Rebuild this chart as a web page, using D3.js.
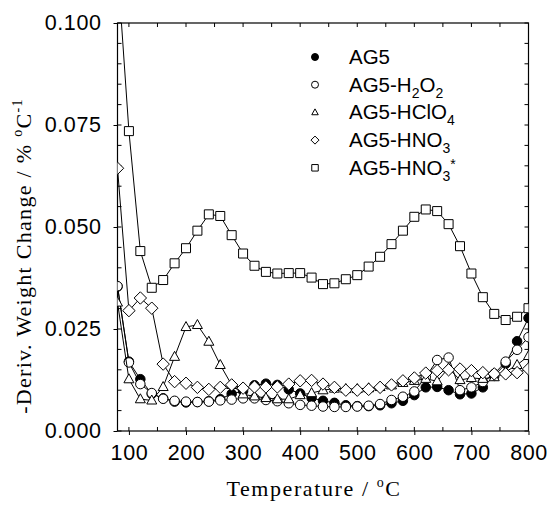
<!DOCTYPE html>
<html><head><meta charset="utf-8">
<script src="https://cdn.jsdelivr.net/npm/d3@7"></script>
<style>
body{margin:0;background:#fff;}
svg{display:block;}
.tick text{font-family:"Liberation Sans",Arial,sans-serif;}
</style></head>
<body><svg id="c" width="548" height="508"></svg>
<script>
const temps = [80,100,120,140,160,180,200,220,240,260,280,300,320,340,360,380,400,420,440,460,480,500,520,540,560,580,600,620,640,660,680,700,720,740,760,780,800];
const ag5 = [0.0354,0.0170,0.0127,0.0091,0.0080,0.0072,0.0070,0.0071,0.0073,0.0078,
 0.0091,0.0098,0.0112,0.0116,0.0113,0.0102,0.0092,0.0081,0.0074,0.0069,
 0.0063,0.0061,0.0061,0.0063,0.0068,0.0074,0.0088,0.0107,0.0108,0.0100,
 0.0090,0.0092,0.0107,0.0135,0.0165,0.0220,0.0277];
const ag5H2O2 = [0.0355,0.0168,0.0115,0.0093,0.0079,0.0074,0.0072,0.0071,0.0072,0.0075,
 0.0077,0.0080,0.0080,0.0076,0.0073,0.0068,0.0064,0.0062,0.0060,0.0059,
 0.0059,0.0060,0.0062,0.0066,0.0076,0.0084,0.0097,0.0132,0.0174,0.0180,
 0.0100,0.0107,0.0120,0.0140,0.0170,0.0199,0.0230];
const ag5HClO4 = [0.0315,0.0127,0.0078,0.0075,0.0108,0.0182,0.0255,0.0260,0.0219,0.0162,
 0.0113,0.0090,0.0085,0.0081,0.0078,0.0078,0.0088,0.0093,0.0100,0.0104,
 0.0103,0.0103,0.0105,0.0108,0.0112,0.0118,0.0123,0.0128,0.0122,0.0154,
 0.0125,0.0130,0.0128,0.0132,0.0145,0.0162,0.0184];
const ag5HNO3 = [0.0644,0.0295,0.0326,0.0301,0.0164,0.0121,0.0117,0.0107,0.0102,0.0107,
 0.0113,0.0105,0.0108,0.0108,0.0108,0.0115,0.0123,0.0124,0.0115,0.0107,
 0.0100,0.0100,0.0102,0.0107,0.0113,0.0123,0.0130,0.0142,0.0148,0.0150,
 0.0152,0.0148,0.0143,0.0140,0.0140,0.0143,0.0152];
const ag5HNO3s = [0.1140,0.0735,0.0441,0.0351,0.0370,0.0411,0.0448,0.0491,0.0531,0.0527,
 0.0480,0.0435,0.0405,0.0390,0.0386,0.0387,0.0387,0.0376,0.0360,0.0362,
 0.0372,0.0382,0.0403,0.0427,0.0458,0.0491,0.0525,0.0543,0.0539,0.0507,
 0.0453,0.0386,0.0328,0.0287,0.0272,0.0280,0.0301];
const xTicks = [100,200,300,400,500,600,700,800];
const yTicks = [0,0.025,0.05,0.075,0.1];

const series = [
  {name:"AG5", vals:ag5, sym:"circle", fill:"#000", parts:[["AG5"]]},
  {name:"AG5-H2O2", vals:ag5H2O2, sym:"circle", fill:"#fff", parts:[["AG5-H"],["2","sub"],["O"],["2","sub"]]},
  {name:"AG5-HClO4", vals:ag5HClO4, sym:"triangle", fill:"#fff", parts:[["AG5-HClO"],["4","sub"]]},
  {name:"AG5-HNO3", vals:ag5HNO3, sym:"diamond", fill:"#fff", parts:[["AG5-HNO"],["3","sub"]]},
  {name:"AG5-HNO3*", vals:ag5HNO3s, sym:"square", fill:"#fff", parts:[["AG5-HNO"],["3","sub"],["*","sup"]]}
];

const svg = d3.select("#c");
const L=117.5, R=528.5, T=23, B=431;
const x = d3.scaleLinear().domain([80,800]).range([L,R]);
const y = d3.scaleLinear().domain([0,0.1]).range([B,T]);

svg.append("defs").append("clipPath").attr("id","clip")
  .append("rect").attr("x",L).attr("y",T).attr("width",R-L).attr("height",B-T);

function symPath(sym, s){
  if(sym==="circle") return d3.symbol(d3.symbolCircle, s*s*Math.PI/4)();
  if(sym==="square") return `M${-s/2},${-s/2}h${s}v${s}h${-s}Z`;
  if(sym==="triangle"){const h=s*0.9;return `M0,${-h*0.6}L${s/2},${h*0.4}L${-s/2},${h*0.4}Z`;}
  if(sym==="diamond"){const r=s*0.62;return `M0,${-r}L${r},0L0,${r}L${-r},0Z`;}
}

// axes
const fmt = d3.format(".3f");
const gx = svg.append("g").attr("transform",`translate(0,${B})`)
  .call(d3.axisBottom(x).tickValues(xTicks).tickSize(4).tickPadding(10));
const gy = svg.append("g").attr("transform",`translate(${L},0)`)
  .call(d3.axisLeft(y).tickValues(yTicks).tickFormat(fmt).tickSize(4).tickPadding(12));
[gx,gy].forEach(g=>{
  g.select(".domain").remove();
  g.selectAll(".tick line").attr("stroke","#000");
  g.selectAll(".tick text").attr("font-size",21.5).attr("fill","#000").attr("letter-spacing","0.6px");
});
// minor inward ticks
const xMinor = [150,250,350,450,550,650,750];
const yMinor = [0.005,0.01,0.015,0.02,0.03,0.035,0.04,0.045,0.055,0.06,0.065,0.07,0.08,0.085,0.09,0.095];
const tg = svg.append("g").attr("stroke","#000").attr("stroke-width",1);
xTicks.concat(xMinor).forEach(v=>{
  tg.append("line").attr("x1",x(v)).attr("x2",x(v)).attr("y1",B).attr("y2",B-4);
  tg.append("line").attr("x1",x(v)).attr("x2",x(v)).attr("y1",T).attr("y2",T+4);
});
yTicks.concat(yMinor).forEach(v=>{
  tg.append("line").attr("x1",R).attr("x2",R-4).attr("y1",y(v)).attr("y2",y(v));
  tg.append("line").attr("x1",L).attr("x2",L+4).attr("y1",y(v)).attr("y2",y(v));
});
svg.append("rect").attr("x",L).attr("y",T).attr("width",R-L).attr("height",B-T)
  .attr("fill","none").attr("stroke","#000").attr("stroke-width",1.2);

// data
const plot = svg.append("g").attr("clip-path","url(#clip)");
const line = d3.line().x((d,i)=>x(temps[i])).y(d=>y(d));
series.forEach(s=>{
  plot.append("path").datum(s.vals).attr("d",line).attr("fill","none").attr("stroke","#000").attr("stroke-width",1);
  plot.selectAll(null).data(s.vals).enter().append("path")
    .attr("transform",(d,i)=>`translate(${x(temps[i])},${y(d)})`)
    .attr("d",symPath(s.sym, s.sym==="circle"?9.5:(s.sym==="square"?9:10)))
    .attr("fill",s.fill).attr("stroke","#000").attr("stroke-width",1);
});

// legend
const lg = svg.append("g");
series.forEach((s,i)=>{
  const yy = 57 + i*27.7;
  lg.append("path").attr("transform",`translate(315,${yy})`)
    .attr("d",symPath(s.sym, s.sym==="circle"?7:6.5))
    .attr("fill",s.fill).attr("stroke","#000").attr("stroke-width",1);
  const t = lg.append("text").attr("x",349).attr("y",yy+7)
    .attr("font-family",'"Liberation Sans",Arial,sans-serif').attr("font-size",20.5).attr("fill","#000");
  s.parts.forEach(p=>{
    const ts = t.append("tspan").text(p[0]);
    if(p[1]==="sub") ts.attr("font-size",14).attr("dy",6);
    else if(p[1]==="sup") ts.attr("font-size",14).attr("dy",-12);
    else if(t.selectAll("tspan").size()>1) ts.attr("dy",-6);
  });
});

// titles
const serif = '"Liberation Serif","Times New Roman",serif';
const xt = svg.append("text").attr("x",314).attr("y",496).attr("text-anchor","middle")
  .attr("font-family",serif).attr("font-size",22).attr("letter-spacing","1.6px").attr("fill","#000");
xt.append("tspan").text("Temperature / ");
xt.append("tspan").text("o").attr("font-size",14).attr("dy",-9);
xt.append("tspan").text("C").attr("dy",9);

const yt = svg.append("text").attr("transform","translate(31,256) rotate(-90)").attr("text-anchor","middle")
  .attr("font-family",serif).attr("font-size",22).attr("letter-spacing","1.3px").attr("fill","#000");
yt.append("tspan").text("-Deriv. Weight Change / % ");
yt.append("tspan").text("o").attr("font-size",14).attr("dy",-9);
yt.append("tspan").text("C").attr("dy",9);
yt.append("tspan").text("-1").attr("font-size",14).attr("dy",-9);
</script></body></html>
